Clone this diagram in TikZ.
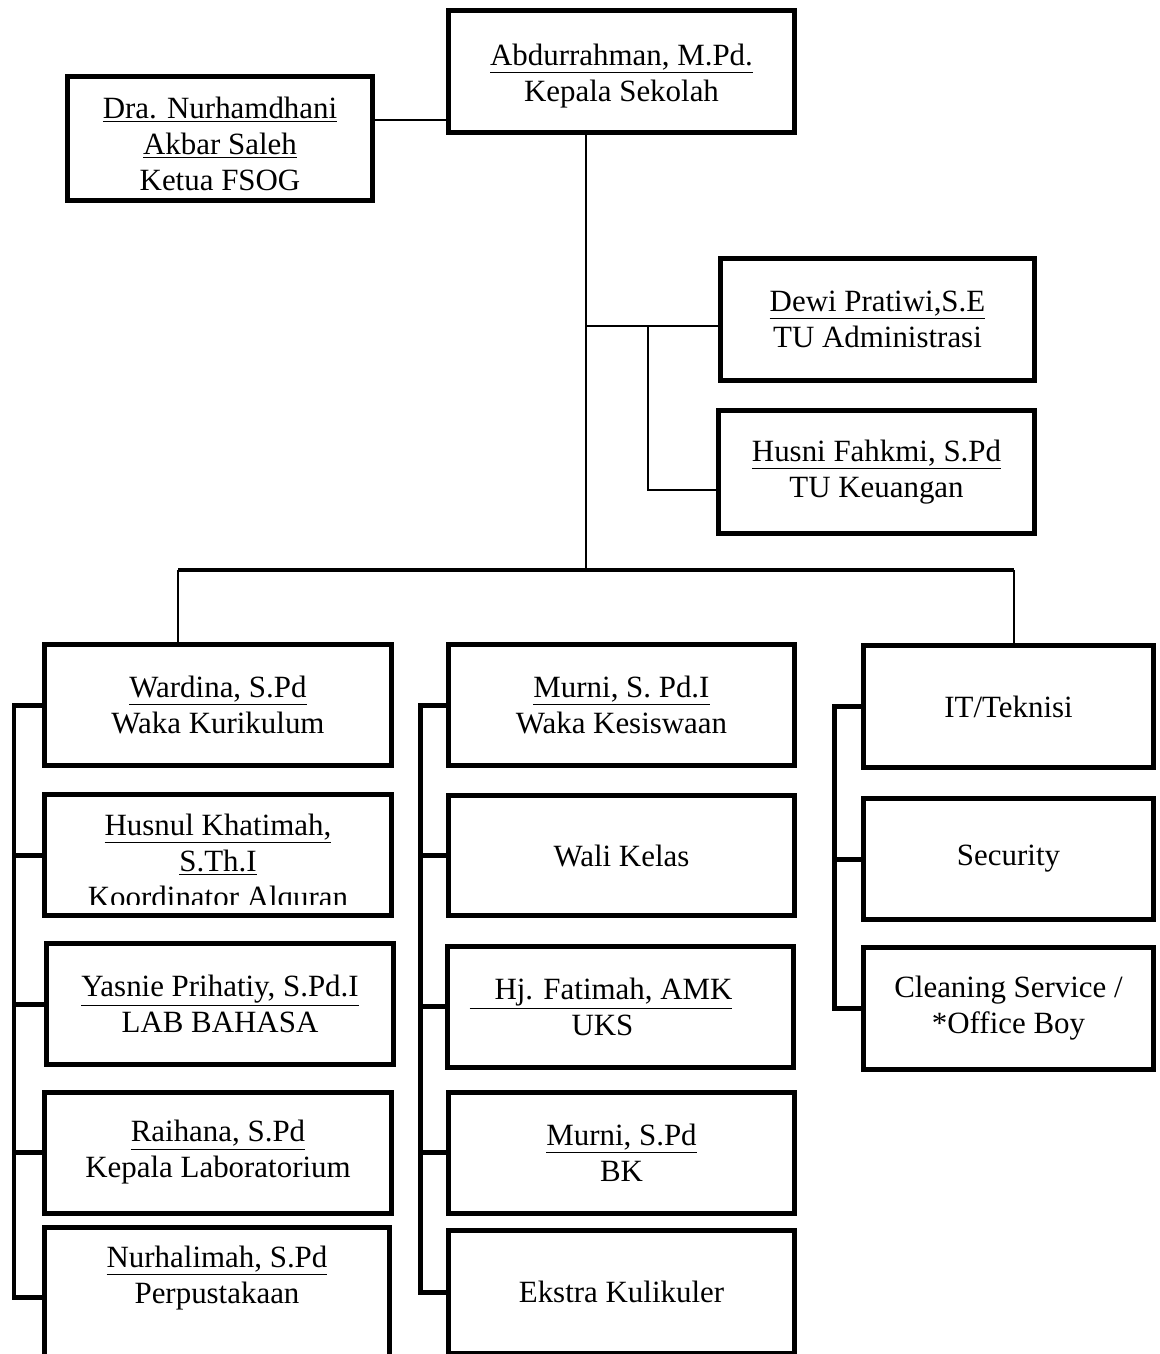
\documentclass[tikz,border=0pt]{standalone}
\usepackage{fontspec}
\setmainfont{Liberation Serif}
\usepackage{tikz}
\newcommand{\isi}{\fontsize{17.6}{20.5}\selectfont}
\tikzstyle{kotak}=[draw,line width=0.1cm,align=center,inner sep=0pt,font=\isi]
\tikzstyle{lebar}=[minimum width=6.94cm,minimum height=2.42cm]
\tikzstyle{sempit}=[minimum width=5.8cm,minimum height=2.44cm]
\tikzstyle{teks}=[align=center,inner sep=0pt,font=\isi]
\tikzstyle{garis}=[line width=0.04cm]
\tikzstyle{bus}=[line width=0.07cm]
\tikzstyle{kurung}=[line width=0.1cm]

\begin{document}
\begin{tikzpicture}[x=0.02cm,y=-0.02cm]
    \clip (0,0) rectangle (1159,1354);
    % pimpinan
    \node [kotak,minimum width=6.92cm,minimum height=2.44cm] (kepsek) at (621.5,71.5) {};
    \node [teks] (kepsekteks) at (621.5,76) {\underline{Abdurrahman, M.Pd.}\\Kepala Sekolah};
    \node [kotak,minimum width=6.1cm,minimum height=2.48cm] (fsog) at (220,138.5) {};
    \node [teks] (fsogteks) at (220,144) {\underline{Dra. Nurhamdhani}\\\underline{Akbar Saleh}\\Ketua FSOG};
    \node [kotak,minimum width=6.28cm,minimum height=2.44cm] (dewi) at (877.5,319.5)
      {\underline{Dewi Pratiwi,S.E}\\TU Administrasi};
    \node [kotak,minimum width=6.32cm,minimum height=2.46cm] (husni) at (876.5,472)
      {\underline{Husni Fahkmi, S.Pd}\\TU Keuangan};
    % kolom kiri
    \node [kotak,lebar] (wardina) at (218,705) {\underline{Wardina, S.Pd}\\Waka Kurikulum};
    \node [kotak,lebar] (husnul) at (218,855) {};
    \begin{scope}
      \clip (45,796) rectangle (391,904);
      \node [teks] (husnulteks) at (218,864)
        {\underline{Husnul Khatimah,}\\\underline{S.Th.I}\\Koordinator Alquran};
    \end{scope}
    \node [kotak,lebar] (yasnie) at (220,1004) {\underline{Yasnie Prihatiy, S.Pd.I}\\LAB BAHASA};
    \node [kotak,lebar] (raihana) at (218,1152.5) {\underline{Raihana, S.Pd}\\Kepala Laboratorium};
    \node [kotak,minimum width=6.9cm,minimum height=2.78cm] (nurhalimah) at (217,1297) {};
    \node [teks] (nurhalimahteks) at (217,1278) {\underline{Nurhalimah, S.Pd}\\Perpustakaan};
    % kolom tengah
    \node [kotak,lebar] (murni) at (621.5,705) {\underline{Murni, S. Pd.I}\\Waka Kesiswaan};
    \node [kotak,lebar] (wali) at (621.5,855.5) {Wali Kelas};
    \node [kotak,lebar] (fatimah) at (620.5,1006.5)
      {\underline{\hspace{0.5cm}Hj. Fatimah, AMK}\makebox[0.78cm]{}\\UKS\makebox[0.72cm]{}};
    \node [kotak,lebar] (bk) at (621.5,1152.5) {\underline{Murni, S.Pd}\\BK};
    \node [kotak,lebar,minimum height=2.46cm] (ekstra) at (621.5,1292) {Ekstra Kulikuler};
    % kolom kanan
    \node [kotak,sempit] (it) at (1008.5,706.5) {IT/Teknisi};
    \node [kotak,sempit] (security) at (1008.5,859) {Security};
    \node [kotak,sempit] (cleaning) at (1008.5,1008) {Cleaning Service /\\*Office Boy};

    % garis
    \coordinate (cabang) at (586,570);
    \coordinate (simpang) at (648,326);
    \coordinate (kiri) at (178,570);
    \coordinate (kanan) at (1014,570);
    \draw [garis] (fsog.east |- 0,120) -- (kepsek.west |- 0,120);
    \draw [garis] (kepsek.south -| cabang) -- (cabang);
    \draw [garis] (cabang |- simpang) -- (dewi.west |- simpang);
    \draw [garis] (simpang) |- (husni.west |- 0,490);
    \draw [bus] (kiri) -- (kanan);
    \draw [garis] (kiri) -- (kiri |- wardina.north);
    \draw [garis] (kanan) -- (kanan |- it.north);

    % kurung
    \draw [kurung] (wardina.west) -| (nurhalimah.west -| 14,0) -- (nurhalimah.west);
    \foreach \n in {husnul,yasnie,raihana}
      \draw [kurung] (\n.west) -- (\n.west -| 14,0);
    \draw [kurung] (murni.west) -| (ekstra.west -| 420,0) -- (ekstra.west);
    \foreach \n in {wali,fatimah,bk}
      \draw [kurung] (\n.west) -- (\n.west -| 420,0);
    \draw [kurung] (it.west) -| (cleaning.west -| 834,0) -- (cleaning.west);
    \draw [kurung] (security.west) -- (security.west -| 834,0);
\end{tikzpicture}
\end{document}
